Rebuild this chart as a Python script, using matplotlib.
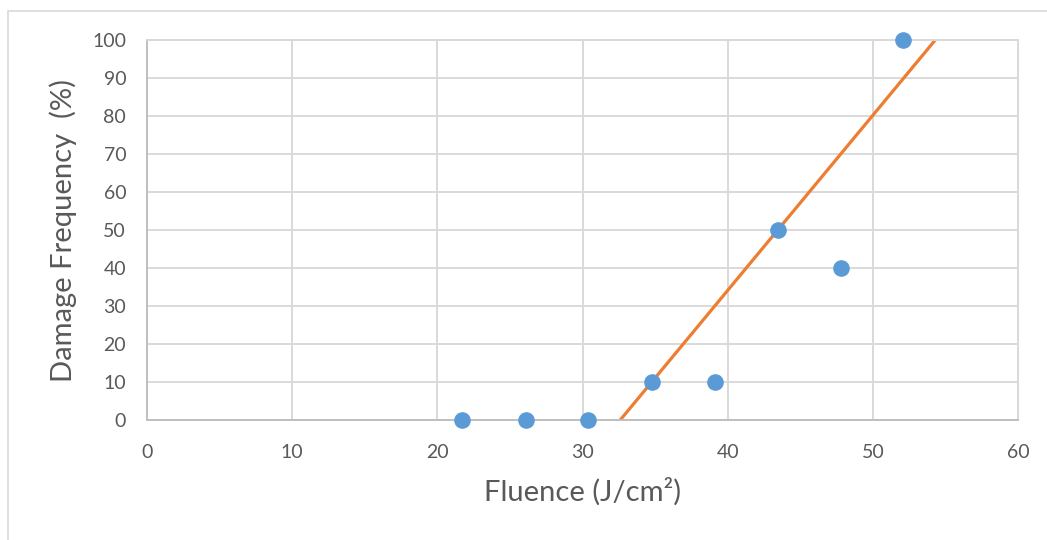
import matplotlib.pyplot as plt
from matplotlib.patches import Rectangle

plt.rcParams['font.family'] = ['Lato', 'DejaVu Sans']

fluence = [21.7, 26.1, 30.4, 34.8, 39.1, 43.5, 47.8, 52.1]
damage = [0, 0, 0, 10, 10, 50, 40, 100]
trend_x = [32.6, 54.3]
trend_y = [0, 100]

grey_text = '#595959'
grid_col = '#d9d9d9'

fig = plt.figure(figsize=(10.47, 5.40), dpi=100)
ax = fig.add_axes([147 / 1047, 1 - 420 / 540, 871 / 1047, 380 / 540])

# outer chart border (Excel style)
fig.patches.append(Rectangle((8 / 1047, -0.1), 1.2, 1 - 11 / 540 + 0.1,
                             transform=fig.transFigure, fill=False,
                             edgecolor='#d9d9d9', linewidth=1.2))

ax.plot(trend_x, trend_y, color='#ed7d31', linewidth=2.3, zorder=2)
ax.scatter(fluence, damage, s=120, color='#5b9bd5', zorder=3, clip_on=False)

ax.set_xlim(0, 60)
ax.set_ylim(0, 100)
ax.set_xticks(range(0, 61, 10))
ax.set_yticks(range(0, 101, 10))
ax.grid(True, color=grid_col, linewidth=1.4)
ax.set_axisbelow(True)
for side in ['top', 'right']:
    ax.spines[side].set_color(grid_col)
    ax.spines[side].set_linewidth(1.4)
for side in ['left', 'bottom']:
    ax.spines[side].set_color('#bfbfbf')
    ax.spines[side].set_linewidth(1.4)
ax.tick_params(axis='y', length=0, labelsize=14, colors=grey_text, pad=15)
ax.tick_params(axis='x', length=0, labelsize=14, colors=grey_text, pad=17)

ax.set_xlabel('Fluence (J/cm²)', fontsize=21, color=grey_text, labelpad=12)
ax.set_ylabel('Damage Frequency  (%)', fontsize=21, color=grey_text, labelpad=11)

fig.savefig('out.png', dpi=100)
